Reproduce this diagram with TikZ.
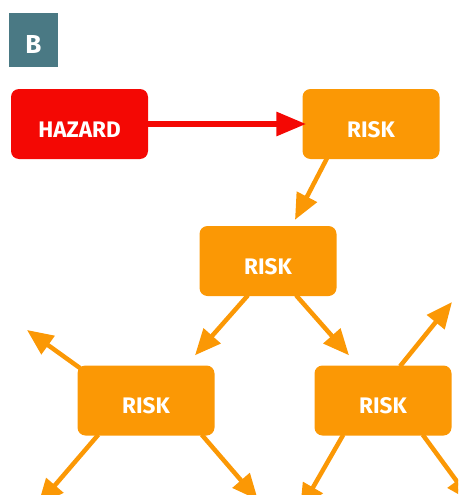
\documentclass[tikz,border=0pt]{standalone}
\usepackage{fontspec}
\setmainfont{Fira Sans}
\usepackage{tikz}
\usetikzlibrary{arrows.meta, positioning, calc}
\definecolor{hazardred}{HTML}{F40804}
\definecolor{riskorange}{HTML}{FB9805}
\definecolor{panelteal}{HTML}{4A7984}

\begin{document}
\begin{tikzpicture}[x=1pt, y=-1pt,
  every node/.style={font=\fontsize{22.5}{26}\selectfont\bfseries, text=white, text height=26pt, text depth=0pt},
  riskbox/.style={fill=riskorange, rounded corners=8pt, minimum width=137pt, minimum height=70pt, inner sep=0pt},
  hazardbox/.style={riskbox, fill=hazardred},
  spread/.style={draw=riskorange, line width=4.5pt, -{Triangle[length=26pt, width=22pt]}},
  cause/.style={draw=hazardred, line width=6pt, -{Triangle[length=30pt, width=23pt]}}]
  \useasboundingbox (0,0) rectangle (458,495);
  \clip (0,0) rectangle (458,495);

  % Label
  \node[fill=panelteal, minimum width=49pt, minimum height=54pt, inner sep=0pt,
        font=\fontsize{26}{30}\selectfont\bfseries, text height=28pt] (panel) at (33.5,40) {B};

  % Top row
  \node[hazardbox] (hazard) at (79.5,124) {HAZARD};
  \node[riskbox] (risk1) at (371,124) {RISK};

  % Middle and bottom rows
  \node[riskbox] (risk2) at (268,261) {RISK};
  \node[riskbox] (risk3) at (146,400.5) {RISK};
  \node[riskbox] (risk4) at (383,400.5) {RISK};

  % Free ends
  \coordinate (out3nw) at (27,330);
  \coordinate (out3sw) at (38,505);
  \coordinate (out3se) at (258,500);
  \coordinate (out4ne) at (452,302);
  \coordinate (out4sw) at (300,510);
  \coordinate (out4se) at (472,502);

  % Connectors
  \draw[cause] (hazard.east) -- ($(risk1.west)+(4,0)$);
  \draw[spread] ($(risk1.south)+(-44,-1)$) -- ($(risk2.north)+(27,-6)$);
  \draw[spread] ($(risk2.south)+(-20,-1)$) -- ($(risk3.north)+(49,-10)$);
  \draw[spread] ($(risk2.south)+(28,-1)$) -- ($(risk4.north)+(-34,-10)$);
  \draw[spread] ($(risk3.north west)+(3,3)$) -- (out3nw);
  \draw[spread] ($(risk3.south west)+(21,-1)$) -- (out3sw);
  \draw[spread] ($(risk3.south east)+(-13,-1)$) -- (out3se);
  \draw[spread] ($(risk4.north)+(17,1)$) -- (out4ne);
  \draw[spread] ($(risk4.south west)+(29,-1)$) -- (out4sw);
  \draw[spread] ($(risk4.south east)+(-29,-1)$) -- (out4se);
\end{tikzpicture}
\end{document}
